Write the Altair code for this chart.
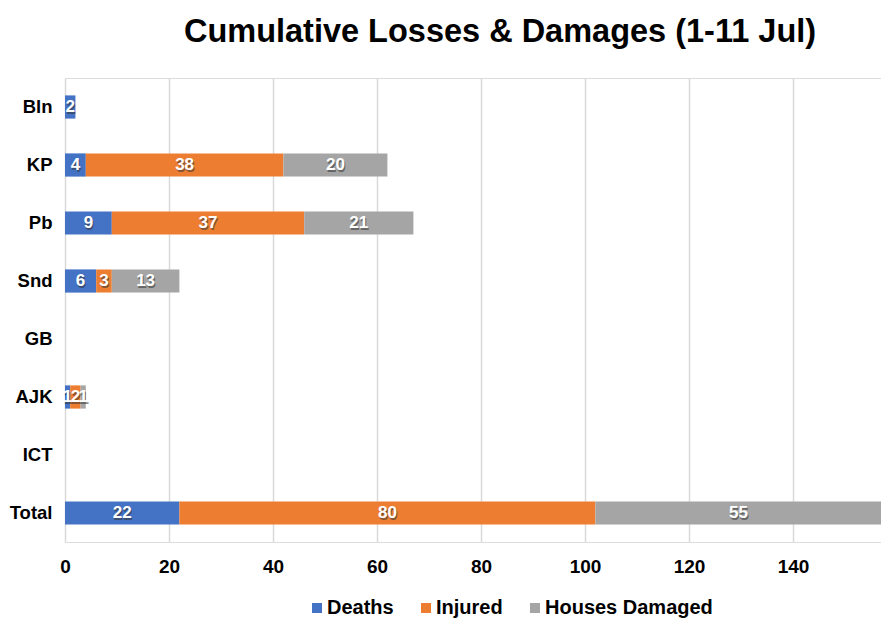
import altair as alt
import pandas as pd

regions = ["Bln", "KP", "Pb", "Snd", "GB", "AJK", "ICT", "Total"]
series = ["Deaths", "Injured", "Houses Damaged"]
deaths = [2, 4, 9, 6, 0, 1, 0, 22]
injured = [0, 38, 37, 3, 0, 2, 0, 80]
houses = [0, 20, 21, 13, 0, 1, 0, 55]
colors = ["#4472C4", "#ED7D31", "#A5A5A5"]
x_ticks = [0, 20, 40, 60, 80, 100, 120, 140, 160]

rows = []
for i, r in enumerate(regions):
    for k, (s, vals) in enumerate(zip(series, [deaths, injured, houses])):
        rows.append({"region": r, "series": s, "value": vals[i], "order": k})
df = pd.DataFrame(rows)

FONT = "Liberation Sans"

base = alt.Chart(df).transform_stack(
    stack="value", groupby=["region"], as_=["x0", "x1"],
    sort=[alt.SortField("order", order="ascending")]
).transform_calculate(mid="(datum.x0 + datum.x1) / 2")

y_enc = alt.Y("region:N", sort=regions, title=None,
              scale=alt.Scale(paddingInner=0.6, paddingOuter=0.3),
              axis=alt.Axis(domain=False, ticks=False, labelFont=FONT,
                            labelFontWeight="bold", labelFontSize=18.5,
                            labelColor="#000000", labelPadding=13))

x_scale = alt.Scale(domain=[0, 160], nice=False, range=[0, 832])

bars = base.mark_bar().encode(
    x=alt.X("x0:Q", title=None, scale=x_scale,
            axis=alt.Axis(values=x_ticks, domain=False, ticks=False,
                          grid=True, gridColor="#D9D9D9", gridWidth=1.5,
                          labelFont=FONT, labelFontWeight="bold",
                          labelFontSize=19, labelColor="#000000",
                          labelPadding=15, format="d", labelOverlap=False,
                          labelBound=False, labelFlush=False)),
    x2="x1:Q",
    y=y_enc,
    color=alt.Color("series:N", sort=series,
                    scale=alt.Scale(domain=series, range=colors),
                    legend=alt.Legend(title=None, orient="none",
                                      direction="horizontal",
                                      legendX=242, legendY=520,
                                      symbolType="square", symbolSize=100,
                                      symbolStrokeWidth=0, labelLimit=400,
                                      labelFont=FONT, labelFontWeight="bold",
                                      labelFontSize=20, labelColor="#000000",
                                      columnPadding=22, labelOffset=0)),
    order=alt.Order("order:Q"),
)

txt_base = base.transform_filter("datum.value > 0")
shadow = txt_base.mark_text(font=FONT, fontWeight="bold", fontSize=17,
                            color="#333333", opacity=0.55, dx=1, dy=1.5,
                            baseline="middle").encode(
    x=alt.X("mid:Q", scale=x_scale), y=alt.Y("region:N", sort=regions),
    text="value:Q")
labels = txt_base.mark_text(font=FONT, fontWeight="bold", fontSize=17,
                            color="#FFFFFF", baseline="middle").encode(
    x=alt.X("mid:Q", scale=x_scale), y=alt.Y("region:N", sort=regions),
    text="value:Q")

chart = alt.layer(bars, shadow, labels).properties(
    width=816, height=464,
    title=alt.TitleParams("Cumulative Losses & Damages (1-11 Jul)",
                          font=FONT, fontSize=32.5, fontWeight="bold",
                          color="#000000", anchor="middle", dx=27, offset=30),
    autosize=alt.AutoSizeParams(type="none"),
    padding={"left": 57, "top": 70, "right": 0, "bottom": 100},
).configure_view(stroke=None).configure(background="#FFFFFF")

chart.save("out.html", embed_options={"renderer": "svg", "actions": False})
